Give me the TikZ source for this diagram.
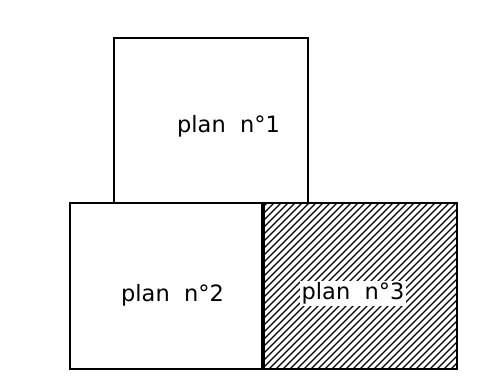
\documentclass[tikz,border=0pt]{standalone}
\usepackage{fontspec}
\usepackage{tikz}
\newfontfamily\planfont{DejaVu Sans}
\tikzstyle{wall}=[draw,line width=1.6pt]
\tikzstyle{thickwall}=[draw,line width=3.6pt]
\tikzstyle{hatch}=[line width=1.3pt]
\tikzstyle{lbl}=[inner sep=0pt,anchor=base west,font=\planfont\fontsize{22.5}{26}\selectfont]

\begin{document}
\begin{tikzpicture}[x=1pt,y=-1pt]
        \useasboundingbox (0,0) rectangle (491,376);
        % hatching of plan 3
        \begin{scope}
            \clip (263,203) rectangle (457,369);
            \foreach \x in {94,101,...,460} {
                \draw[hatch] (\x,369) -- (\x+166,203);
            }
        \end{scope}
        % labels
        \node[lbl] (t1) at (177,132) {plan~~n°1};
        \node[lbl] (t2) at (121,301) {plan~~n°2};
        \node[lbl,fill=white,inner sep=1.5pt] (t3) at (300,299.5) {plan~~n°3};
        % outlines
        \draw[wall] (114,203) -- (114,38) -- (308,38) -- (308,203);
        \draw[wall] (263,203) -- (70,203) -- (70,369) -- (263,369);
        \draw[wall] (263,203) -- (457,203) -- (457,369) -- (263,369);
        \draw[thickwall] (263,203) -- (263,369);
    \end{tikzpicture}
\end{document}
